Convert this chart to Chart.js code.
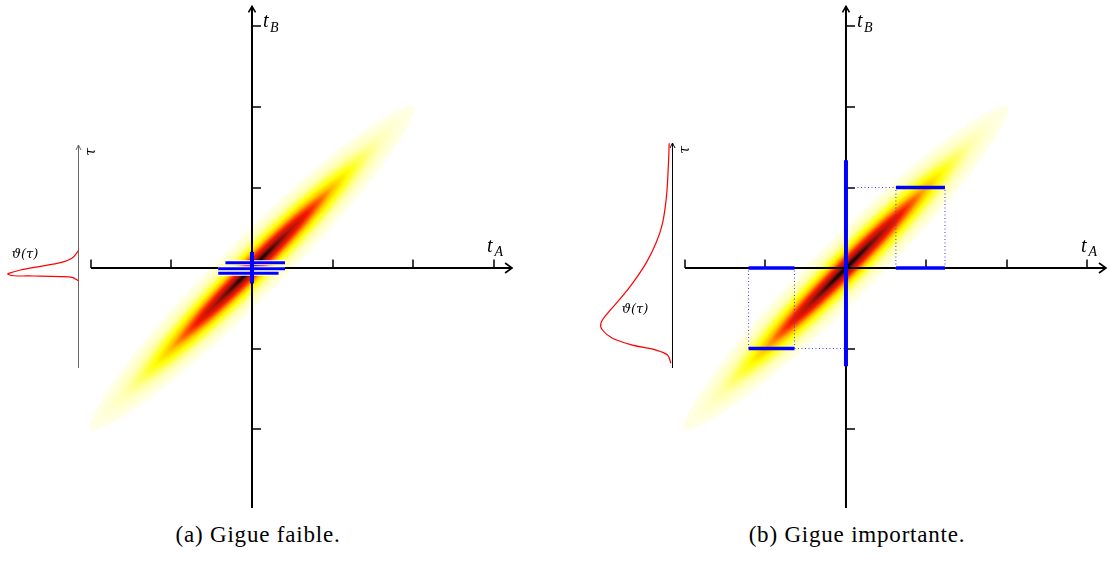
<!DOCTYPE html>
<html>
<head>
<meta charset="utf-8">
<script src="https://cdn.jsdelivr.net/npm/chart.js@4.4.1/dist/chart.umd.min.js"></script>
<style>
  body { margin: 0; background: #fff; width: 1113px; height: 568px; position: relative; overflow: hidden; }
  .panel { position: absolute; top: 0; height: 520px; }
  #pa { left: 0; width: 556px; }
  #pb { left: 556px; width: 557px; }
  .cap { position: absolute; top: 523px; font: 23px "Liberation Serif", serif; line-height: 23px; letter-spacing: 0.8px;
         color: #000; transform: translateX(-50%); white-space: nowrap; }
</style>
</head>
<body>
<div class="panel" id="pa"><canvas id="ca" width="556" height="520"></canvas></div>
<div class="panel" id="pb"><canvas id="cb" width="557" height="520"></canvas></div>
<div class="cap" style="left:258px">(a) Gigue faible.</div>
<div class="cap" style="left:857px">(b) Gigue importante.</div>
<script>
// axes (t_A, t_B) - same for both panels
const X_TICKS = [-2, -1, 1, 2, 3]
const Y_TICKS = [-2, -1, 1, 2, 3]
const X_AXIS = [-2, 3.23]
const Y_AXIS = [-2.98, 3.25]

// visible window of each panel
const VIEW_A_X = [-3.130, 3.776]
const VIEW_B_X = [-3.602, 3.317]
const VIEW_Y = [-3.130, 3.329]

// joint density of (t_A, t_B), stretched along t_A = t_B
const ELL_SIG_U = 1.653  // along the diagonal
const ELL_POW_U = 2.3
const ELL_SIG_V = 0.169  // across
const ELL_POW_V = 1.6
const ELL_CUT = 0.03

// small tau axis + jitter density theta(tau)
const TAU_AXIS_X = -2.155
const TAU_RANGE_A = [-1.242, 1.528]
const TAU_RANGE_B = [-1.242, 1.553]
const TAU_A = [0.215, 0.124, 0.066, 0.021, -0.025, -0.066, -0.078, -0.096, -0.099, -0.106, -0.116, -0.158]
const THETA_A = [0, 0.078, 0.224, 0.472, 0.72, 0.866, 0.878, 0.807, 0.559, 0.224, 0.078, 0]
const TAU_B = [1.549, 1.30, 0.886, 0.555, 0.307, 0.058, -0.190, -0.397, -0.563, -0.687, -0.770, -0.873, -0.957, -1.019, -1.081, -1.184]
const THETA_B = [0.041, 0.05, 0.075, 0.124, 0.206, 0.330, 0.497, 0.662, 0.807, 0.889, 0.870, 0.745, 0.497, 0.206, 0.062, 0.02]

// blue intervals
const BAR_A_Y = [0.066, -0.01, -0.065]
const BAR_A_X0 = [-0.33, -0.42, -0.42]
const BAR_A_X1 = [0.41, 0.41, 0.33]
const VBAR_A = [-0.19, 0.20]

const BAR_B_Y = [1, 0, 0, -1]
const BAR_B_X0 = [0.62, 0.62, -1.21, -1.21]
const BAR_B_X1 = [1.23, 1.23, -0.64, -0.64]
const VBAR_B = [-1.22, 1.34]

// colour map for the density (white -> yellow -> red -> black)
const CMAP = [
  [0.03, 255, 255, 235],
  [0.15, 255, 255, 170],
  [0.35, 255, 255, 0],
  [0.50, 255, 190, 0],
  [0.62, 255, 100, 0],
  [0.74, 245, 25, 0],
  [0.87, 185, 20, 10],
  [0.95, 110, 15, 10],
  [1.00, 15, 0, 0],
]

const colour = (f) => {
  for (let k = 1; k < CMAP.length; k++) {
    if (f <= CMAP[k][0]) {
      const a = CMAP[k - 1], b = CMAP[k]
      const t = (f - a[0]) / (b[0] - a[0])
      return [a[1] + t * (b[1] - a[1]), a[2] + t * (b[2] - a[2]), a[3] + t * (b[3] - a[3])]
    }
  }
  return [0, 0, 0]
}

const heatmap = {
  id: 'heatmap',
  beforeDatasetsDraw(chart) {
    const { ctx, chartArea: a, scales: { x, y } } = chart
    const w = Math.round(a.right - a.left), h = Math.round(a.bottom - a.top)
    const off = document.createElement('canvas')
    off.width = w; off.height = h
    const octx = off.getContext('2d')
    const img = octx.createImageData(w, h)
    for (let j = 0; j < h; j++) {
      const tB = y.getValueForPixel(a.top + j + 0.5)
      for (let i = 0; i < w; i++) {
        const tA = x.getValueForPixel(a.left + i + 0.5)
        const u = Math.abs(tA + tB) / Math.SQRT2 / ELL_SIG_U
        const v = Math.abs(tB - tA) / Math.SQRT2 / ELL_SIG_V
        const f = Math.exp(-(Math.pow(u, ELL_POW_U) + Math.pow(v, ELL_POW_V)))
        if (f < ELL_CUT) continue
        const [r, g, b] = colour(f)
        const p = (j * w + i) * 4
        img.data[p] = r; img.data[p + 1] = g; img.data[p + 2] = b; img.data[p + 3] = 255
      }
    }
    octx.putImageData(img, 0, 0)
    ctx.drawImage(off, a.left, a.top)
  }
}

const arrowHead = (ctx, x, y, dir) => {
  // latex style "->"
  ctx.beginPath()
  if (dir === 'right') {
    ctx.moveTo(x - 7, y - 5); ctx.lineTo(x, y); ctx.lineTo(x - 7, y + 5)
  } else {
    ctx.moveTo(x - 3.5, y + 6); ctx.lineTo(x, y); ctx.lineTo(x + 3.5, y + 6)
  }
  ctx.stroke()
}

const axes = {
  id: 'axes',
  beforeDatasetsDraw(chart, args, opts) {
    const { ctx, scales: { x, y } } = chart
    const ox = x.getPixelForValue(0), oy = y.getPixelForValue(0)
    ctx.save()
    ctx.strokeStyle = '#000'
    ctx.lineCap = 'butt'
    // main axes
    ctx.lineWidth = 2
    ctx.beginPath()
    ctx.moveTo(x.getPixelForValue(X_AXIS[0]), oy)
    ctx.lineTo(x.getPixelForValue(X_AXIS[1]), oy)
    ctx.moveTo(ox, y.getPixelForValue(Y_AXIS[0]))
    ctx.lineTo(ox, y.getPixelForValue(Y_AXIS[1]))
    ctx.stroke()
    ctx.lineWidth = 1.6
    arrowHead(ctx, x.getPixelForValue(X_AXIS[1]), oy, 'right')
    arrowHead(ctx, ox, y.getPixelForValue(Y_AXIS[1]), 'up')
    ctx.lineWidth = 1.5
    ctx.beginPath()
    X_TICKS.forEach(t => {
      const px = Math.round(x.getPixelForValue(t))
      ctx.moveTo(px, oy); ctx.lineTo(px, oy - 8.5)
    })
    Y_TICKS.forEach(t => {
      const py = Math.round(y.getPixelForValue(t))
      ctx.moveTo(ox, py); ctx.lineTo(ox + 9, py)
    })
    ctx.stroke()

    // tau axis
    const tx = x.getPixelForValue(TAU_AXIS_X)
    const tTop = y.getPixelForValue(opts.tauRange[1])
    ctx.strokeStyle = opts.tauColor
    ctx.lineWidth = 1
    ctx.beginPath()
    ctx.moveTo(tx, y.getPixelForValue(opts.tauRange[0]))
    ctx.lineTo(tx, tTop)
    ctx.stroke()
    ctx.beginPath()
    ctx.moveTo(tx - 2.5, tTop + 5); ctx.lineTo(tx, tTop); ctx.lineTo(tx + 2.5, tTop + 5)
    ctx.stroke()

    // labels
    ctx.fillStyle = '#000'
    ctx.textBaseline = 'alphabetic'
    ctx.textAlign = 'left'
    const xa = x.getPixelForValue(3)
    ctx.font = 'italic 20px "Liberation Serif", serif'
    ctx.fillText('t', xa - 6.5, oy - 16)
    ctx.font = 'italic 14px "Liberation Serif", serif'
    ctx.fillText('A', xa + 1, oy - 12)
    const yb = y.getPixelForValue(3)
    ctx.font = 'italic 20px "Liberation Serif", serif'
    ctx.fillText('t', ox + 11, yb + 0.5)
    ctx.font = 'italic 14px "Liberation Serif", serif'
    ctx.fillText('B', ox + 18, yb + 6)

    ctx.save()
    ctx.translate(tx + 13, tTop + 7)
    ctx.rotate(-Math.PI / 2)
    ctx.textAlign = 'center'
    ctx.textBaseline = 'middle'
    ctx.font = 'italic 14px "DejaVu Serif", serif'
    ctx.fillText('τ', 0, 0)
    ctx.restore()

    ctx.textAlign = 'center'
    ctx.textBaseline = 'middle'
    ctx.font = 'italic 13px "DejaVu Serif", serif'
    ctx.fillText('ϑ(τ)', x.getPixelForValue(opts.thetaLabel[0]), y.getPixelForValue(opts.thetaLabel[1]))
    ctx.restore()
  }
}

const line = (pts, color, width, extra) => Object.assign({
  data: pts,
  showLine: true,
  borderColor: color,
  borderWidth: width,
  pointRadius: 0,
  fill: false,
  clip: false,
  borderCapStyle: 'butt',
}, extra || {})

const makePanel = (canvasId, cfg) => {
  const ds = []
  ds.push(line(cfg.tau.map((t, i) => ({ x: TAU_AXIS_X - cfg.theta[i], y: t })), '#ff0000', 1.2, { tension: 0.35 }))
  if (cfg.dotted) cfg.dotted.forEach(seg => ds.push(line(seg, '#3a3aff', 1, { borderDash: [1, 2.5] })))
  cfg.barY.forEach((yv, i) => {
    const pts = [{ x: cfg.barX0[i], y: yv }, { x: cfg.barX1[i], y: yv }]
    if (cfg.outline) ds.push(line(pts, '#ffffff', cfg.barW + 2))
    ds.push(line(pts, '#0000ff', cfg.barW))
  })
  ds.push(line([{ x: 0, y: cfg.vbar[0] }, { x: 0, y: cfg.vbar[1] }], '#0000ff', 4))
  // later datasets on top
  ds.forEach((d, i) => { d.order = ds.length - i })

  return new Chart(document.getElementById(canvasId), {
    type: 'scatter',
    data: { datasets: ds },
    options: {
      responsive: false,
      animation: false,
      layout: { padding: 0 },
      scales: {
        x: { type: 'linear', display: false, min: cfg.viewX[0], max: cfg.viewX[1] },
        y: { type: 'linear', display: false, min: VIEW_Y[0], max: VIEW_Y[1] },
      },
      plugins: {
        legend: { display: false },
        tooltip: { enabled: false },
        axes: { tauRange: cfg.tauRange, tauColor: cfg.tauColor, thetaLabel: cfg.thetaLabel },
      }
    },
    plugins: [heatmap, axes]
  })
}

makePanel('ca', {
  viewX: VIEW_A_X, tau: TAU_A, theta: THETA_A, tauRange: TAU_RANGE_A, tauColor: '#666',
  thetaLabel: [-2.82, 0.161],
  barY: BAR_A_Y, barX0: BAR_A_X0, barX1: BAR_A_X1, barW: 3, outline: true, vbar: VBAR_A,
})

// dotted guides of panel b, from the bars
const dottedB = [
  [{ x: BAR_B_X0[0], y: 0 }, { x: BAR_B_X0[0], y: 1 }],
  [{ x: BAR_B_X1[0], y: 0 }, { x: BAR_B_X1[0], y: 1 }],
  [{ x: 0.1, y: 1 }, { x: BAR_B_X0[0], y: 1 }],
  [{ x: BAR_B_X0[3], y: -1 }, { x: BAR_B_X0[3], y: 0 }],
  [{ x: BAR_B_X1[3], y: -1 }, { x: BAR_B_X1[3], y: 0 }],
  [{ x: BAR_B_X1[3], y: -1 }, { x: 0, y: -1 }],
]

makePanel('cb', {
  viewX: VIEW_B_X, tau: TAU_B, theta: THETA_B, tauRange: TAU_RANGE_B, tauColor: '#000',
  thetaLabel: [-2.62, -0.522],
  barY: BAR_B_Y, barX0: BAR_B_X0, barX1: BAR_B_X1, barW: 3.5, outline: false, vbar: VBAR_B,
  dotted: dottedB,
})
</script>
</body>
</html>
